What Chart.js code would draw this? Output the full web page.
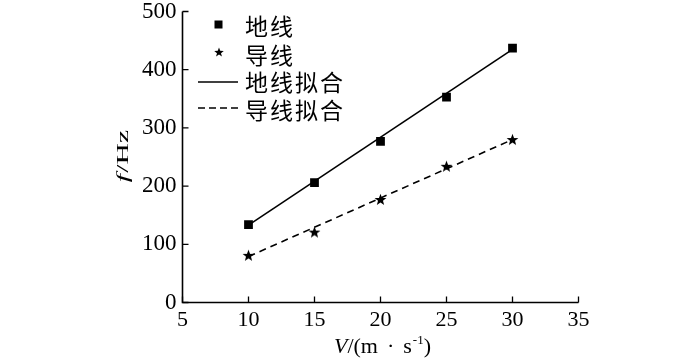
<!DOCTYPE html>
<html><head><meta charset="utf-8">
<script src="https://cdn.jsdelivr.net/npm/chart.js@4/dist/chart.umd.min.js"></script>
<style>html,body{margin:0;padding:0;background:#fff}#wrap{width:700px;height:360px}</style>
</head><body><div id="wrap"><canvas id="c" width="700" height="360"></canvas></div>
<script>
const speeds = [10, 15, 20, 25, 30];
const groundWire = [134, 206, 277, 353, 437];
const conductor = [81, 121, 177, 234, 280];
const fitX = [10, 30];
const groundFit = [133, 435];
const conductorFit = [79, 280];
const xTicks = [5, 10, 15, 20, 25, 30, 35];
const yTicks = [0, 100, 200, 300, 400, 500];
const legendLabels = ['地线', '导线', '地线拟合', '导线拟合'];

function makeStar(r) {
  const s = Math.ceil(r * 2 + 2);
  const cv = document.createElement('canvas');
  cv.width = s; cv.height = s;
  const g = cv.getContext('2d');
  g.fillStyle = '#000';
  g.beginPath();
  for (let i = 0; i < 10; i++) {
    const rad = i % 2 === 0 ? r : r * 0.42;
    const a = -Math.PI / 2 + i * Math.PI / 5;
    const px = s / 2 + rad * Math.cos(a), py = s / 2 + rad * Math.sin(a) + 0.5;
    i === 0 ? g.moveTo(px, py) : g.lineTo(px, py);
  }
  g.closePath(); g.fill();
  return cv;
}
const star = makeStar(6.2);
const smallStar = makeStar(5);

const pts = (xs, ys) => xs.map((x, i) => ({x, y: ys[i]}));
const serif = '"Liberation Serif", "Times New Roman", serif';
const cjk = '"Noto Sans CJK SC", sans-serif';

const decor = {
  id: 'decor',
  afterDraw(chart) {
    const ctx = chart.ctx, xs = chart.scales.x, ys = chart.scales.y, a = chart.chartArea;
    ctx.save();
    ctx.strokeStyle = '#000'; ctx.fillStyle = '#000'; ctx.lineWidth = 1.6;
    // axes
    ctx.beginPath();
    ctx.moveTo(a.left, a.top); ctx.lineTo(a.left, a.bottom); ctx.lineTo(a.right, a.bottom);
    ctx.stroke();
    // inward ticks
    ctx.lineWidth = 1.3;
    ctx.beginPath();
    xTicks.forEach(v => { const p = xs.getPixelForValue(v); ctx.moveTo(p, a.bottom); ctx.lineTo(p, a.bottom - 6); });
    yTicks.forEach(v => { const p = ys.getPixelForValue(v); ctx.moveTo(a.left, p); ctx.lineTo(a.left + 6, p); });
    ctx.stroke();
    // y title: f/Hz rotated
    ctx.translate(128, 156);
    ctx.rotate(-Math.PI / 2);
    ctx.scale(1.35, 0.78);
    ctx.textBaseline = 'alphabetic';
    ctx.font = 'italic 22px ' + serif;
    const w1 = ctx.measureText('f').width;
    ctx.font = '22px ' + serif;
    const w2 = ctx.measureText('/Hz').width;
    let sx = -(w1 + w2 + 1) / 2;
    ctx.font = 'italic 22px ' + serif; ctx.fillText('f', sx, 0);
    ctx.font = '22px ' + serif; ctx.fillText('/Hz', sx + w1 + 1, 0);
    ctx.setTransform(1, 0, 0, 1, 0, 0);
    // x title
    const parts = [['italic 22px ' + serif, 'V', 0, 0], ['22px ' + serif, '/(m', 0, 0], ['22px ' + serif, '·', 0, 9], ['22px ' + serif, 's', 0, 9], ['13px ' + serif, '-1', -9, 1], ['22px ' + serif, ')', 0, 0]];
    let tw = 0;
    parts.forEach(p => { ctx.font = p[0]; tw += ctx.measureText(p[1]).width + p[3]; });
    let cx = 382.5 - tw / 2;
    parts.forEach(p => { ctx.font = p[0]; cx += p[3]; ctx.fillText(p[1], cx, 353 + p[2]); cx += ctx.measureText(p[1]).width; });
    // legend
    const rows = [26, 55, 82, 110];
    ctx.font = '23px ' + cjk;
    ctx.letterSpacing = '2px';
    ctx.textBaseline = 'middle';
    legendLabels.forEach((t, i) => ctx.fillText(t, 245, rows[i]));
    ctx.letterSpacing = '0px';
    ctx.fillRect(214.5, 20.5, 8, 8);
    ctx.drawImage(smallStar, 219 - smallStar.width / 2, 52 - smallStar.height / 2);
    ctx.lineWidth = 1.6;
    ctx.beginPath(); ctx.moveTo(198, 82); ctx.lineTo(238, 82); ctx.stroke();
    ctx.setLineDash([7, 4]);
    ctx.beginPath(); ctx.moveTo(198, 108); ctx.lineTo(238, 108); ctx.stroke();
    ctx.restore();
  }
};

new Chart(document.getElementById('c'), {
  type: 'scatter',
  data: {
    datasets: [
      {label: legendLabels[2], data: pts(fitX, groundFit), showLine: true, borderColor: '#000', borderWidth: 1.6, pointRadius: 0, fill: false},
      {label: legendLabels[3], data: pts(fitX, conductorFit), showLine: true, borderColor: '#000', borderWidth: 1.6, borderDash: [7, 5], pointRadius: 0, fill: false},
      {label: legendLabels[0], data: pts(speeds, groundWire), pointStyle: 'rect', pointRadius: 6.2, backgroundColor: '#000', borderColor: '#000', borderWidth: 0},
      {label: legendLabels[1], data: pts(speeds, conductor), pointStyle: star, backgroundColor: '#000', borderColor: '#000'}
    ]
  },
  options: {
    responsive: false, animation: false,
    layout: {padding: {top: 11.5, right: 121.5, left: 0, bottom: 0}},
    plugins: {legend: {display: false}, tooltip: {enabled: false}},
    scales: {
      x: {
        type: 'linear', min: 5, max: 35,
        afterBuildTicks: s => { s.ticks = xTicks.map(v => ({value: v})); },
        afterFit: s => { s.height = 57.5; s.paddingLeft = 0; s.paddingRight = 0; },
        grid: {display: false, drawTicks: false}, border: {display: false},
        ticks: {color: '#000', font: {family: serif, size: 22}, padding: 5, maxRotation: 0}
      },
      y: {
        type: 'linear', min: 0, max: 500,
        afterBuildTicks: s => { s.ticks = yTicks.map(v => ({value: v})); },
        afterFit: s => { s.width = 182.5; s.paddingTop = 0; s.paddingBottom = 0; },
        grid: {display: false, drawTicks: false}, border: {display: false},
        ticks: {color: '#000', font: {family: serif, size: 23}, padding: 6}
      }
    }
  },
  plugins: [decor]
});
</script></body></html>
